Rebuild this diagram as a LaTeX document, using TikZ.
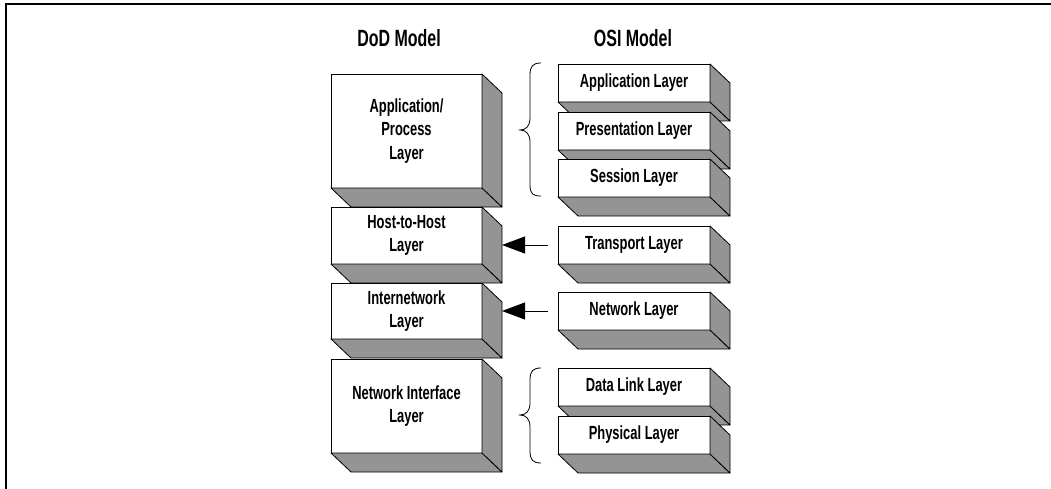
\documentclass[tikz,border=0pt]{standalone}
\usepackage{fontspec}
\setmainfont[FakeStretch=0.68]{Liberation Sans}
\usetikzlibrary{arrows.meta,calc}
\definecolor{sidegray}{gray}{0.58}
\tikzset{
  box/.style={draw=black, fill=white, line width=0.8pt, inner sep=0pt, outer sep=0pt,
    align=center, font=\bfseries\fontsize{19}{23.5}\selectfont},
  face/.style={draw=black, fill=sidegray, line width=0.8pt, line join=round},
  title/.style={font=\bfseries\fontsize{23.5}{26}\selectfont, inner sep=0pt},
  brc/.style={line width=0.8pt},
  arr/.style={line width=0.8pt, -{Triangle[length=23pt,width=17pt]}, shorten <=10pt},
  frame/.style={line width=1.6pt}
}
\newcommand\layerbox[6]{%
  \node[box, minimum width=#4pt, minimum height=#5pt] (#1) at ({#2+#4/2},{#3+#5/2}) {#6};
  \draw[face] (#1.south west) -- (#1.south east) -- ++(20,19) -- ($(#1.south west)+(20,19)$) -- cycle;
  \draw[face] (#1.north east) -- ++(20,19) -- ($(#1.south east)+(20,19)$) -- (#1.south east) -- cycle;
}
\begin{document}
\begin{tikzpicture}[x=1pt,y=-1pt]
\useasboundingbox (0,0) rectangle (1051,489);
\draw[frame] (6,489) -- (6,4) -- (1051,4);

\node[title] (dod) at (399,38) {DoD Model};
\node[title] (osi) at (633,38) {OSI Model};

% DoD model
\layerbox{app}{331}{74}{151}{114}{Application/\\Process\\Layer}
\layerbox{hh}{331}{207}{151}{57}{Host-to-Host\\Layer}
\layerbox{inet}{331}{283}{151}{56}{Internetwork\\Layer}
\layerbox{nif}{331}{359}{151}{94}{Network Interface\\Layer}

% OSI model
\layerbox{oapp}{558}{64}{152}{38}{Application Layer}
\layerbox{pres}{558}{112}{152}{38}{Presentation Layer}
\layerbox{sess}{558}{159}{152}{38}{Session Layer}
\layerbox{tr}{558}{226}{152}{38}{Transport Layer}
\layerbox{net}{558}{292}{152}{38}{Network Layer}
\layerbox{dl}{558}{368}{152}{38}{Data Link Layer}
\layerbox{phy}{558}{416}{152}{38}{Physical Layer}

% braces
\draw[brc] (541,63) .. controls (533,63) and (530,66) .. (530,75) -- (530,118)
  .. controls (530,126) and (526,130) .. (520,130)
  .. controls (526,130) and (530,134) .. (530,142) -- (530,185)
  .. controls (530,194) and (533,196) .. (541,196);
\draw[brc] (541,368) .. controls (533,368) and (530,371) .. (530,380) -- (530,403)
  .. controls (530,411) and (526,415) .. (520,415)
  .. controls (526,415) and (530,419) .. (530,427) -- (530,451)
  .. controls (530,460) and (533,463) .. (541,463);

% arrows
\coordinate (hhs) at ($(hh.east)+(20,0)$);
\coordinate (ins) at ($(inet.east)+(20,0)$);
\draw[arr] (tr.west) -- (hhs |- tr.west);
\draw[arr] (net.west) -- (ins |- net.west);
\end{tikzpicture}
\end{document}
